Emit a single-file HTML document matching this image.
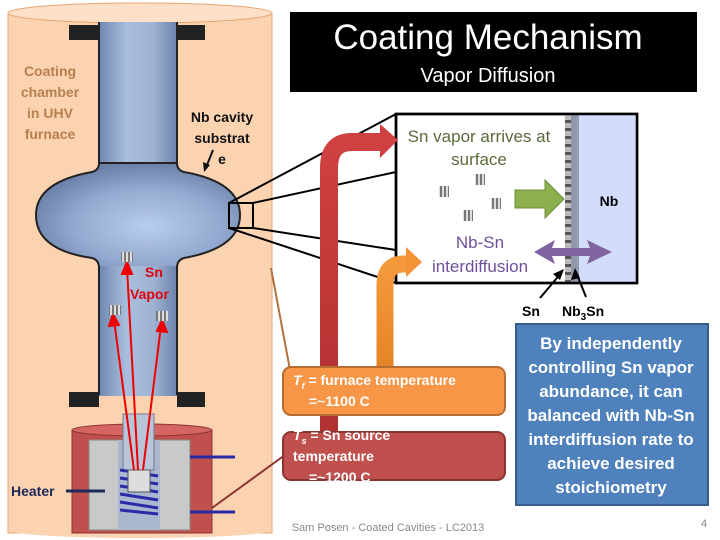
<!DOCTYPE html>
<html><head><meta charset="utf-8"><style>
html,body{margin:0;padding:0;background:#fff;}
svg{display:block;}
text{font-family:"Liberation Sans",sans-serif;}
</style></head><body>
<svg width="720" height="540" viewBox="0 0 720 540" xmlns="http://www.w3.org/2000/svg">
<defs>
<linearGradient id="tube" x1="0" x2="1" y1="0" y2="0">
<stop offset="0" stop-color="#6f86b0"/><stop offset="0.35" stop-color="#a9bedd"/><stop offset="0.7" stop-color="#9fb2d2"/><stop offset="1" stop-color="#6d83ab"/>
</linearGradient>
<radialGradient id="cav" cx="0.55" cy="0.6" r="0.6">
<stop offset="0" stop-color="#b8cdee"/><stop offset="0.6" stop-color="#93a9cf"/><stop offset="1" stop-color="#6a80a8"/>
</radialGradient>
<linearGradient id="stripe" x1="0" x2="0" y1="0" y2="1">
<stop offset="0" stop-color="#999"/><stop offset="0.5" stop-color="#eee"/><stop offset="1" stop-color="#999"/>
</linearGradient>
<pattern id="sten" width="4" height="10" patternUnits="userSpaceOnUse"><rect width="2" height="10" fill="#777"/><rect x="2" width="2" height="10" fill="#ddd"/></pattern>
<pattern id="layer" width="8" height="8" patternUnits="userSpaceOnUse"><rect width="8" height="8" fill="#bbb"/><rect y="0" width="8" height="3" fill="#555"/></pattern>
<linearGradient id="nbg" x1="0" x2="1"><stop offset="0" stop-color="#8e95a8"/><stop offset="1" stop-color="#d4dcfc"/></linearGradient>
<linearGradient id="redv" x1="0" x2="0" y1="0" y2="1"><stop offset="0" stop-color="#d04040"/><stop offset="1" stop-color="#b03030"/></linearGradient>
<linearGradient id="orv" x1="0" x2="0" y1="0" y2="1"><stop offset="0" stop-color="#f59a3c"/><stop offset="1" stop-color="#e07f22"/></linearGradient>
</defs>

<!-- furnace chamber -->
<rect x="8" y="13" width="264" height="520" fill="#fcd3b1" stroke="#e8a574" stroke-width="1"/>
<ellipse cx="140" cy="13" rx="132" ry="10" fill="#fde0c7" stroke="#e8a574"/>
<ellipse cx="140" cy="530" rx="132" ry="8" fill="#fcd3b1"/>

<!-- cavity -->
<rect x="99" y="22" width="78" height="150" fill="url(#tube)"/>
<path d="M99 163 Q99 170 92 172 Q36 182 36 215 Q36 250 92 258 Q99 260 99 268 L177 268 Q177 260 184 258 Q240 248 240 215 Q240 182 184 172 Q177 170 177 163 Z" fill="url(#cav)" stroke="#222" stroke-width="2"/>
<line x1="99" y1="22" x2="99" y2="163" stroke="#222" stroke-width="2"/>
<line x1="177" y1="22" x2="177" y2="163" stroke="#222" stroke-width="2"/>
<rect x="99" y="266" width="78" height="130" fill="url(#tube)"/>
<line x1="99" y1="266" x2="99" y2="395" stroke="#222" stroke-width="2"/>
<line x1="177" y1="266" x2="177" y2="395" stroke="#222" stroke-width="2"/>
<rect x="69" y="25" width="30" height="15" fill="#222"/><rect x="177" y="25" width="28" height="15" fill="#222"/>
<rect x="69" y="392" width="30" height="15" fill="#222"/><rect x="177" y="392" width="28" height="15" fill="#222"/>

<!-- heater -->
<rect x="72" y="430" width="140" height="103" fill="#c0504d" stroke="#8c3431"/>
<ellipse cx="142" cy="430" rx="70" ry="6" fill="#d56563" stroke="#8c3431"/>
<rect x="89" y="440" width="101" height="90" fill="#c9c9c9" stroke="#888"/>
<rect x="118" y="440" width="42" height="90" fill="#a9b8cf"/>
<rect x="123" y="414" width="31" height="56" fill="#b8c6da" stroke="#778"/>
<g stroke="#2a2aa8" stroke-width="3" fill="none">
<path d="M120 470 L158 476 M120 478 L158 484 M120 486 L158 492 M120 494 L158 500 M120 502 L158 508 M120 510 L158 514"/>
</g>
<rect x="128" y="470" width="22" height="22" fill="#ddd" stroke="#555"/>
<line x1="190" y1="457" x2="235" y2="457" stroke="#2a2aa8" stroke-width="3"/>
<line x1="190" y1="512" x2="235" y2="512" stroke="#2a2aa8" stroke-width="3"/>
<line x1="66" y1="491" x2="105" y2="491" stroke="#1b2a5a" stroke-width="3"/>
<text x="11" y="496" font-size="14" font-weight="bold" fill="#1b2a5a">Heater</text>

<!-- red vapor lines -->
<g stroke="#e00" stroke-width="2" fill="#e00">
<line x1="138" y1="470" x2="127" y2="268"/><polygon points="127,262 122,274 132,274"/>
<line x1="134" y1="470" x2="114" y2="320"/><polygon points="113,314 109,326 119,325"/>
<line x1="143" y1="470" x2="161" y2="326"/><polygon points="162,320 157,331 167,332"/>
</g>
<rect x="121" y="252" width="12" height="10" fill="url(#sten)"/>
<rect x="109" y="305" width="12" height="10" fill="url(#sten)"/>
<rect x="156" y="311" width="12" height="10" fill="url(#sten)"/>
<text x="145" y="277" font-size="14" font-weight="bold" fill="#e00010">Sn</text>
<text x="130" y="299" font-size="14" font-weight="bold" fill="#e00010">Vapor</text>

<text x="50" y="76" font-size="14" font-weight="bold" fill="#b8804e" text-anchor="middle">Coating</text>
<text x="50" y="97" font-size="14" font-weight="bold" fill="#b8804e" text-anchor="middle">chamber</text>
<text x="50" y="118" font-size="14" font-weight="bold" fill="#b8804e" text-anchor="middle">in UHV</text>
<text x="50" y="139" font-size="14" font-weight="bold" fill="#b8804e" text-anchor="middle">furnace</text>
<text x="222" y="122" font-size="14" font-weight="bold" fill="#111" text-anchor="middle">Nb cavity</text>
<text x="222" y="143" font-size="14" font-weight="bold" fill="#111" text-anchor="middle">substrat</text>
<text x="222" y="164" font-size="14" font-weight="bold" fill="#111" text-anchor="middle">e</text>
<line x1="213" y1="150" x2="205" y2="170" stroke="#111" stroke-width="2"/>
<polygon points="204,172 203,162 210,165" fill="#111"/>

<!-- zoom box & lines -->
<rect x="229" y="203" width="24" height="25" fill="none" stroke="#000" stroke-width="2"/>
<g stroke="#000" stroke-width="2">
<line x1="229" y1="203" x2="396" y2="114"/><line x1="253" y1="203" x2="396" y2="172"/>
<line x1="229" y1="228" x2="396" y2="283"/><line x1="253" y1="228" x2="396" y2="250"/>
</g>
<rect x="396" y="114" width="241" height="169" fill="#fff" stroke="#000" stroke-width="2.5"/>
<rect x="571" y="115" width="65" height="167" fill="url(#nbg)"/>
<rect x="579" y="115" width="57" height="167" fill="#d4dcfc"/>
<rect x="565" y="115" width="6" height="167" fill="url(#layer)"/>
<rect x="396" y="114" width="241" height="169" fill="none" stroke="#000" stroke-width="2.5"/>
<text x="479" y="142" font-size="17" fill="#5a6a3a" text-anchor="middle">Sn vapor arrives at</text>
<text x="479" y="165" font-size="17" fill="#5a6a3a" text-anchor="middle">surface</text>
<text x="609" y="206" font-size="14" font-weight="bold" fill="#000" text-anchor="middle">Nb</text>
<rect x="475" y="174" width="10" height="11" fill="url(#sten)"/>
<rect x="439" y="186" width="10" height="11" fill="url(#sten)"/>
<rect x="491" y="198" width="10" height="11" fill="url(#sten)"/>
<rect x="463" y="210" width="10" height="11" fill="url(#sten)"/>
<polygon points="515,190 545,190 545,180 564,199 545,218 545,208 515,208" fill="#8cb050" stroke="#6c8c3a"/>
<text x="480" y="248" font-size="17" fill="#70509a" text-anchor="middle">Nb-Sn</text>
<text x="480" y="272" font-size="17" fill="#70509a" text-anchor="middle">interdiffusion</text>
<polygon points="534,252 555,240 552,248 590,248 587,240 612,252 587,264 590,256 552,256 555,264" fill="#8064a2"/>
<line x1="540" y1="298" x2="562" y2="272" stroke="#000" stroke-width="2"/><polygon points="564,269 553,274 560,280" fill="#000"/>
<line x1="586" y1="297" x2="576" y2="272" stroke="#000" stroke-width="2"/><polygon points="575,268 571,280 580,278" fill="#000"/>
<text x="531" y="316" font-size="14" font-weight="bold" fill="#000" text-anchor="middle">Sn</text>
<text x="562" y="316" font-size="14" font-weight="bold" fill="#000">Nb<tspan font-size="10" dy="4">3</tspan><tspan dy="-4">Sn</tspan></text>

<!-- temperature arrows -->
<path d="M329 440 L329 168 Q329 142 352 142 L380 142" stroke="url(#redv)" stroke-width="18" fill="none"/>
<polygon points="380,124 398,140 380,158" fill="#d04040"/>
<path d="M385 390 L385 285 Q385 264 404 264 L408 264" stroke="url(#orv)" stroke-width="17" fill="none"/>
<polygon points="406,247 422,262 406,277" fill="#f29436"/>
<line x1="271" y1="268" x2="290" y2="370" stroke="#b07040" stroke-width="2"/>
<line x1="212" y1="508" x2="285" y2="455" stroke="#8c3431" stroke-width="2"/>

<rect x="283" y="367" width="222" height="48" rx="8" fill="#f79646" stroke="#b66d31" stroke-width="2"/>
<text x="293" y="385" font-size="14" font-weight="bold" fill="#fff"><tspan font-style="italic">T</tspan><tspan font-size="9" dy="4" font-style="italic">f</tspan><tspan dy="-4"> = furnace temperature</tspan></text>
<text x="309" y="406" font-size="14" font-weight="bold" fill="#fff">=~1100 C</text>
<rect x="283" y="432" width="222" height="48" rx="8" fill="#c0504d" stroke="#8c3431" stroke-width="2"/>
<text x="293" y="440" font-size="14" font-weight="bold" fill="#fff"><tspan font-style="italic">T</tspan><tspan font-size="9" dy="4" font-style="italic">s</tspan><tspan dy="-4"> = Sn source</tspan></text>
<text x="293" y="461" font-size="14" font-weight="bold" fill="#fff">temperature</text>
<text x="309" y="482" font-size="14" font-weight="bold" fill="#fff">=~1200 C</text>

<!-- blue box -->
<rect x="516" y="324" width="192" height="181" fill="#4f81bd" stroke="#385d8a" stroke-width="2"/>
<g font-size="17" font-weight="bold" fill="#fff" text-anchor="middle">
<text x="611" y="349">By independently</text>
<text x="611" y="373">controlling Sn vapor</text>
<text x="611" y="397">abundance, it can</text>
<text x="611" y="421">balanced with Nb-Sn</text>
<text x="611" y="445">interdiffusion rate to</text>
<text x="611" y="469">achieve desired</text>
<text x="611" y="493">stoichiometry</text>
</g>

<!-- title -->
<rect x="290" y="12" width="407" height="80" fill="#000"/>
<text x="488" y="49" font-size="35" fill="#fff" text-anchor="middle">Coating Mechanism</text>
<text x="488" y="82" font-size="20" fill="#fff" text-anchor="middle">Vapor Diffusion</text>

<text x="388" y="531" font-size="11" fill="#888" text-anchor="middle">Sam Posen - Coated Cavities - LC2013</text>
<text x="704" y="527" font-size="11" fill="#888" text-anchor="middle">4</text>
</svg>
</body></html>
